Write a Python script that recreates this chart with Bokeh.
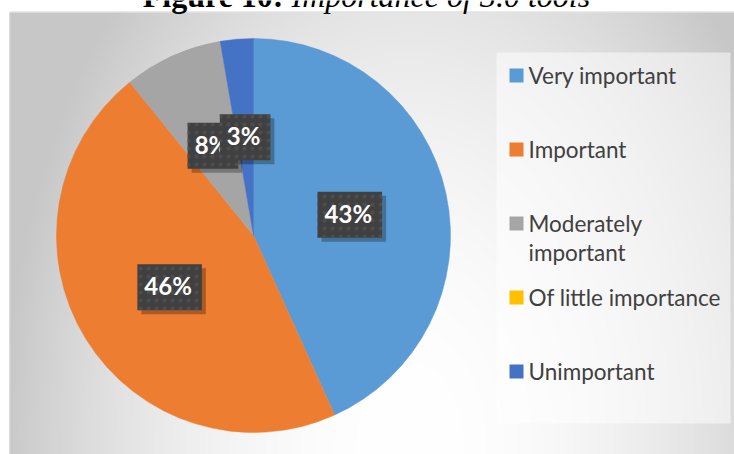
import numpy as np
from math import pi, cos, sin
from bokeh.plotting import figure
from bokeh.models import Range1d, ColumnDataSource, Label
from bokeh.core.properties import value
from bokeh.embed import file_html
from bokeh.resources import INLINE

# ---- data ----
categories = ["Very important", "Important", "Moderately\nimportant", "Of little importance", "Unimportant"]
counts = [16, 17, 3, 0, 1]
colors = ["#5B9BD5", "#ED7D31", "#A5A5A5", "#FFC000", "#4472C4"]
title_bold = "Figure 10:"
title_italic = "Importance of 3.0 tools"

W, H = 734, 454
p = figure(width=W, height=H, x_range=Range1d(0, W), y_range=Range1d(0, H),
           output_backend="svg", toolbar_location=None, min_border=0,
           outline_line_color=None, background_fill_color="white", border_fill_color="white")
p.axis.visible = False
p.grid.visible = False

# ---- chart area background (radial-ish gradient) ----
ax0, ax1, ay0, ay1 = 9, W, 0, 442
nx, ny = 363, 221
gx = np.linspace(ax0, ax1, nx)
gy = np.linspace(ay0, ay1, ny)
GX, GY = np.meshgrid(gx, gy)
dist = np.sqrt(((GX - 410) / 410.0) ** 2 + ((GY - 6) / 650.0) ** 2)
gray = (255 - 56 * np.clip(dist, 0, 1) ** 2).astype(np.uint8)
img = np.empty((ny, nx), dtype=np.uint32)
view = img.view(dtype=np.uint8).reshape((ny, nx, 4))
view[..., 0] = gray
view[..., 1] = gray
view[..., 2] = gray
view[..., 3] = 255
p.image_rgba(image=[img], x=ax0, y=ay0, dw=ax1 - ax0, dh=ay1 - ay0)
p.quad(left=9.5, right=750, bottom=-10, top=442.5, fill_color=None, line_color="#D4D4D4", line_width=1)

# ---- pie ----
cx, cy, r = 253, 219, 197
total = float(sum(counts))
fracs = [c / total for c in counts]
cum = np.concatenate([[0.0], np.cumsum(fracs)])
starts = [pi / 2 - 2 * pi * cum[i] for i in range(len(counts))]
ends = [pi / 2 - 2 * pi * cum[i + 1] for i in range(len(counts))]
idx = [i for i, c in enumerate(counts) if c > 0]
pie_src = ColumnDataSource(dict(
    start=[starts[i] for i in idx], end=[ends[i] for i in idx],
    color=[colors[i] for i in idx]))
p.wedge(x=cx, y=cy, radius=r, start_angle="start", end_angle="end", direction="clock",
        fill_color="color", line_color="color", line_width=0.5, source=pie_src)

# ---- data labels ----
lx, ly, lt = [], [], []
for i in idx:
    m = pi / 2 - 2 * pi * (cum[i] + fracs[i] / 2)
    lx.append(cx + 0.5 * r * cos(m))
    ly.append(cy + 0.5 * r * sin(m))
    lt.append("%d%%" % round(100 * fracs[i]))
lab_src = ColumnDataSource(dict(x=lx, y=ly, text=lt))
common = dict(x="x", y="y", text="text", source=lab_src, text_font=value("Lato"),
              text_font_style="bold", text_font_size="24px", text_align="center",
              text_baseline="middle", padding=(7, 10, 7, 10))
p.text(text_alpha=0, background_fill_color="black", background_fill_alpha=0.28,
       x_offset=4, y_offset=4, **common)
p.text(text_color="white", background_fill_color="#404040",
       background_hatch_pattern="dot", background_hatch_color="#4d4d4d",
       background_hatch_scale=8, **common)

# ---- legend ----
p.quad(left=496, right=730, bottom=31, top=402, fill_color="white", fill_alpha=0.5, line_color=None)
leg_y0, leg_step, line_step = 379, 74, 29
sq_y = [leg_y0 - i * leg_step for i in range(len(categories))]
p.rect(x=516, y=sq_y, width=14, height=14, fill_color=colors, line_color=None)
tx, ty, tt = [], [], []
for i, name in enumerate(categories):
    for j, part in enumerate(name.split("\n")):
        tx.append(528)
        ty.append(sq_y[i] - j * line_step)
        tt.append(part)
p.text(x=tx, y=ty, text=tt, text_font=value("Lato"), text_font_size="22.5px",
       text_color="#404040", text_align="left", text_baseline="middle")

# ---- title (cut off at the top, as in the source) ----
p.add_layout(Label(x=283, y=H + 5, text=title_bold, text_font="Liberation Serif", text_font_size="32px",
                   text_font_style="bold", text_align="right", text_baseline="alphabetic",
                   text_color="black"))
p.add_layout(Label(x=291, y=H + 5, text=title_italic, text_font="Liberation Serif", text_font_size="32px",
                   text_font_style="italic", text_align="left", text_baseline="alphabetic",
                   text_color="black"))

open("out.html", "w").write(file_html(p, INLINE))
